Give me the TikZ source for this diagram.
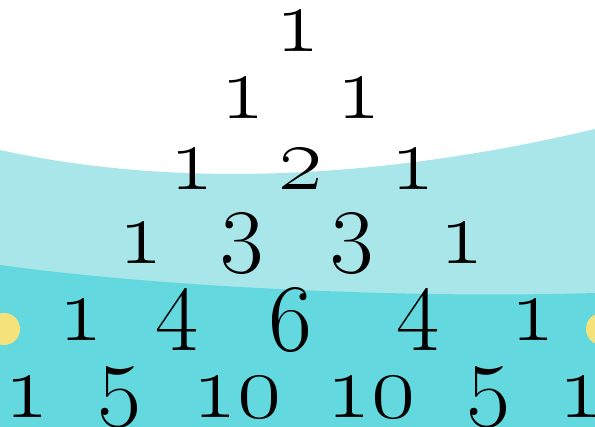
\documentclass[tikz,border=0pt]{standalone}
\usepackage{fix-cm}
\definecolor{bandlight}{RGB}{168,230,233}
\definecolor{banddark}{RGB}{100,216,223}
\definecolor{dotyellow}{RGB}{246,226,122}
\tikzset{
  num/.style={anchor=center, inner sep=0pt, font=\fontencoding{TS1}\fontfamily{lmr}\fontsize{95}{95}\selectfont, text=black},
  dot/.style={fill=dotyellow, draw=none}
}
\newcommand{\pn}[1]{#1}
\begin{document}
\begin{tikzpicture}[x=1pt,y=-1pt]
\useasboundingbox (0,0) rectangle (595,427);
\fill[white] (0,0) rectangle (595,427);
% light band
\fill[bandlight] (0,150) .. controls (150,183) and (350,187) .. (595,129) -- (595,427) -- (0,427) -- cycle;
% dark band
\fill[banddark] (0,265) .. controls (150,286) and (400,299) .. (595,293) -- (595,427) -- (0,427) -- cycle;
% yellow dots
\fill[dot] (4,329) circle (16);
\fill[dot] (602,329) circle (16);
% rows
\node[num] (r0c0) at (298,31.5) {\pn{1}};
\node[num] (r1c0) at (242.5,98.5) {\pn{1}};
\node[num] (r1c1) at (358.5,98.5) {\pn{1}};
\node[num] (r2c0) at (192,169) {\pn{1}};
\node[num] (r2c1) at (301,169) {\pn{2}};
\node[num] (r2c2) at (413,169) {\pn{1}};
\node[num] (r3c0) at (141,243.5) {\pn{1}};
\node[num] (r3c1) at (242,243.5) {\pn{3}};
\node[num] (r3c2) at (352,243.5) {\pn{3}};
\node[num] (r3c3) at (462,243.5) {\pn{1}};
\node[num] (r4c0) at (81,320) {\pn{1}};
\node[num] (r4c1) at (177,320) {\pn{4}};
\node[num] (r4c2) at (291,320) {\pn{6}};
\node[num] (r4c3) at (418,320) {\pn{4}};
\node[num] (r4c4) at (533,320) {\pn{1}};
\node[num] (r5c0) at (27,397.5) {\pn{1}};
\node[num] (r5c1) at (120,397.5) {\pn{5}};
\node[num] (r5c2) at (237,397.5) {\pn{10}};
\node[num] (r5c3) at (371,397.5) {\pn{10}};
\node[num] (r5c4) at (489,397.5) {\pn{5}};
\node[num] (r5c5) at (581,397.5) {\pn{1}};
\end{tikzpicture}
\end{document}
